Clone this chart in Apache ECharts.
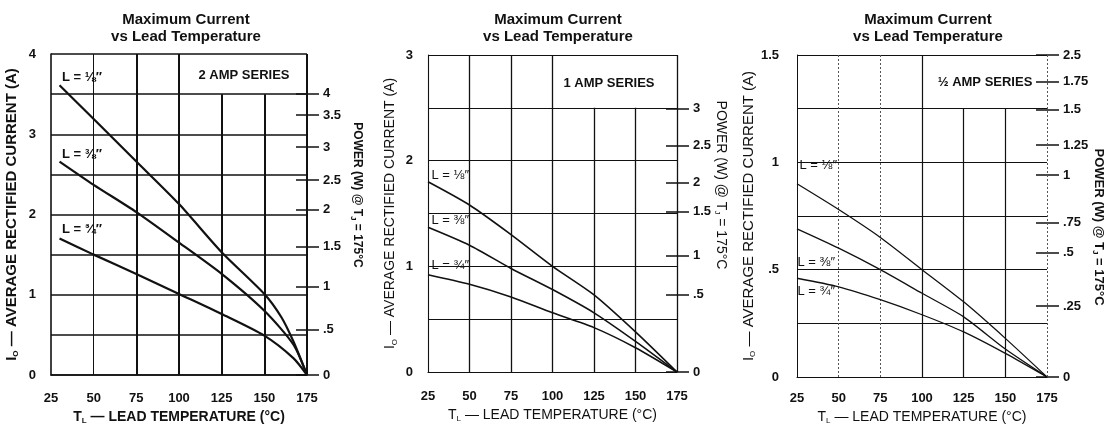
<!DOCTYPE html>
<html><head><meta charset="utf-8">
<script src="https://cdn.jsdelivr.net/npm/echarts@6/dist/echarts.min.js"></script>
<style>html,body{margin:0;padding:0;background:#fff}#c{width:1105px;height:430px}</style>
</head><body><div id="c"></div>
<script>
// ---------- DATA ----------
const tempTicks = [25, 50, 75, 100, 125, 150, 175];
const chartTitle = 'Maximum Current\nvs Lead Temperature';
const seriesNames = ['L = \u215B\u2033', 'L = \u215C\u2033', 'L = \u00BE\u2033'];

// 2 AMP SERIES
const a2Temp18 = [30, 50, 75, 100, 125, 150, 160, 167, 175];
const a2Cur18  = [3.61, 3.19, 2.66, 2.13, 1.53, 1.01, 0.72, 0.42, 0];
const a2Temp38 = [30, 50, 75, 100, 125, 150, 167, 175];
const a2Cur38  = [2.66, 2.37, 2.03, 1.65, 1.26, 0.80, 0.38, 0];
const a2Temp34 = [30, 50, 75, 100, 125, 150, 167, 175];
const a2Cur34  = [1.70, 1.50, 1.26, 1.01, 0.76, 0.49, 0.21, 0];
const a2CurLabels = [0, 1, 2, 3, 4];
const a2PowerLabels = ['0', '.5', '1', '1.5', '2', '2.5', '3', '3.5', '4'];
const a2PowerAt     = [0, 0.57, 1.10, 1.60, 2.06, 2.43, 2.84, 3.24, 3.51];

// 1 AMP SERIES
const a1Temp   = [25, 50, 75, 100, 125, 150, 175];
const a1Cur18  = [1.80, 1.58, 1.30, 1.00, 0.73, 0.38, 0];
const a1Cur38  = [1.37, 1.20, 0.98, 0.78, 0.56, 0.29, 0];
const a1Cur34  = [0.92, 0.83, 0.71, 0.56, 0.42, 0.23, 0];
const a1CurLabels = [0, 1, 2, 3];
const a1PowerLabels = ['0', '.5', '1', '1.5', '2', '2.5', '3'];
const a1PowerAt     = [0, 0.73, 1.10, 1.52, 1.79, 2.14, 2.49];

// 1/2 AMP SERIES
const a05Temp  = [25, 50, 75, 100, 125, 150, 175];
const a05Cur18 = [0.90, 0.78, 0.65, 0.50, 0.35, 0.18, 0];
const a05Cur38 = [0.69, 0.60, 0.50, 0.39, 0.28, 0.13, 0];
const a05Cur34 = [0.46, 0.42, 0.36, 0.29, 0.21, 0.11, 0];
const a05CurLabels = [0, 0.5, 1, 1.5];
const a05PowerLabels = ['0', '.25', '.5', '.75', '1', '1.25', '1.5', '1.75', '2.5'];
const a05PowerAt     = [0, 0.33, 0.58, 0.72, 0.94, 1.08, 1.245, 1.375, 1.5];

// ---------- LAYOUT / STYLE ----------
const FONT = '"Liberation Sans", Arial, "DejaVu Sans", sans-serif';
const INK = '#111';

const panels = [
  {
    grid: {left: 51, top: 54, width: 256, height: 325},
    titleX: 181, ymax: 4, yint: 0.5,
    curLabels: a2CurLabels, powerLabels: a2PowerLabels, powerAt: a2PowerAt,
    curves: [[a2Temp18, a2Cur18], [a2Temp38, a2Cur38], [a2Temp34, a2Cur34]],
    labelPos: [[3, -7], [3, -7], [3, -9]],
    fullV: [50, 75, 100, 175], partV: [125, 150], partTop: 3.5,
    bold: true, curveW: 2.2, gridW: 1.6, vW: 2, thinV: [50],
    seriesText: '2 AMP SERIES', seriesXY: [244, 75],
    powerName: [357, 195], powerFont: 12, powerBold: true,
    yNameGap: 31, yNameSize: 15, xMargin: 17, xNameGap: 34, yMargin: 15,
    xNameSize: 14
  },
  {
    grid: {left: 428, top: 55, width: 249, height: 317},
    titleX: 553, ymax: 3, yint: 0.5,
    curLabels: a1CurLabels, powerLabels: a1PowerLabels, powerAt: a1PowerAt,
    curves: [[a1Temp, a1Cur18], [a1Temp, a1Cur38], [a1Temp, a1Cur34]],
    labelPos: [[4, -6], [4, -6], [4, -9]],
    fullV: [50, 75, 100, 175], partV: [125, 150], partTop: 2.5,
    bold: false, curveW: 1.6, gridW: 1.1, vW: 1.3, thinV: [],
    seriesText: '1 AMP SERIES', seriesXY: [609, 83],
    powerName: [721, 185], powerFont: 14, powerBold: false,
    yNameGap: 29, yNameSize: 14, xMargin: 18, xNameGap: 33, yMargin: 15,
    xNameSize: 14
  },
  {
    grid: {left: 797, top: 55, width: 250, height: 322},
    titleX: 923, ymax: 1.5, yint: 0.25,
    curLabels: a05CurLabels, powerLabels: a05PowerLabels, powerAt: a05PowerAt,
    curves: [[a05Temp, a05Cur18], [a05Temp, a05Cur38], [a05Temp, a05Cur34]],
    labelPos: [[3, -18], [1, 34], [1, 14]],
    fullV: [100], dotV: [50, 75, 175], partV: [125, 150], partTop: 1.25,
    bold: false, curveW: 1.3, gridW: 1, vW: 1.2, thinV: [],
    seriesText: '\u00BD AMP SERIES', seriesXY: [985, 82],
    powerName: [1099, 227], powerFont: 13, powerBold: true,
    yNameGap: 33, yNameSize: 15, xMargin: 15, xNameGap: 31, yMargin: 18,
    xNameSize: 14
  }
];

const grids = [], xAxes = [], yAxes = [], series = [], titles = [], graphics = [];

function fmtCur(v) {
  if (v > 0 && v < 1) return String(v).replace(/^0/, '');
  return String(v);
}

panels.forEach((p, k) => {
  const W = p.bold ? 'bold' : 'normal';
  grids.push(Object.assign({containLabel: false}, p.grid));
  titles.push({
    text: chartTitle, left: p.titleX, top: 6, textAlign: 'center',
    textStyle: {fontFamily: FONT, fontSize: 15, fontWeight: 'bold', lineHeight: 17, color: INK}
  });
  xAxes.push({
    type: 'value', gridIndex: k, min: 25, max: 175, interval: 25,
    name: '{m|T}{s|L}{m| \u2014 LEAD TEMPERATURE (\u00B0C)}',
    nameLocation: 'middle', nameGap: p.xNameGap,
    nameTextStyle: {
      rich: {
        m: {fontFamily: FONT, fontSize: p.xNameSize, fontWeight: W, color: INK, lineHeight: 16},
        s: {fontFamily: FONT, fontSize: 8, fontWeight: W, color: INK, lineHeight: 8, verticalAlign: 'bottom'}
      }
    },
    axisLine: {show: true, lineStyle: {color: INK, width: p.gridW}},
    axisTick: {show: false},
    splitLine: {show: false},
    axisLabel: {margin: p.xMargin, fontFamily: FONT, fontSize: 13, fontWeight: 'bold', color: INK,
                customValues: tempTicks}
  });
  const yBase = yAxes.length;
  yAxes.push({
    type: 'value', gridIndex: k, min: 0, max: p.ymax, interval: p.yint, position: 'left',
    name: '{m|I}{s|O}{m| \u2014 AVERAGE RECTIFIED CURRENT (A)}',
    nameLocation: 'middle', nameGap: p.yNameGap, nameRotate: 90,
    nameTextStyle: {
      rich: {
        m: {fontFamily: FONT, fontSize: p.yNameSize, fontWeight: W, color: INK, lineHeight: 17},
        s: {fontFamily: FONT, fontSize: 8, fontWeight: W, color: INK, lineHeight: 8, verticalAlign: 'bottom'}
      }
    },
    axisLine: {show: true, lineStyle: {color: INK, width: p.gridW}},
    axisTick: {show: false},
    splitLine: {show: true, lineStyle: {color: INK, width: p.gridW}},
    axisLabel: {margin: p.yMargin, fontFamily: FONT, fontSize: 13, fontWeight: 'bold', color: INK,
                customValues: p.curLabels, formatter: fmtCur}
  });
  // right power scale: inner ticks
  yAxes.push({
    type: 'value', gridIndex: k, min: 0, max: p.ymax, position: 'right',
    axisLine: {show: false}, splitLine: {show: false},
    axisTick: {show: true, inside: true, length: 11, customValues: p.powerAt,
               lineStyle: {color: INK, width: 1.5}},
    axisLabel: {show: false}
  });
  // right power scale: outer ticks + labels
  yAxes.push({
    type: 'value', gridIndex: k, min: 0, max: p.ymax, position: 'right',
    axisLine: {show: false}, splitLine: {show: false},
    axisTick: {show: true, inside: false, length: 12, customValues: p.powerAt,
               lineStyle: {color: INK, width: 1.5}},
    axisLabel: {show: true, margin: 16, fontFamily: FONT, fontSize: 13, fontWeight: 'bold', color: INK,
                customValues: p.powerAt,
                formatter: v => p.powerLabels[p.powerAt.indexOf(v)] ?? ''}
  });

  // vertical grid lines (partial-height ones stop below the series box)
  const ml = [];
  p.fullV.forEach(t => ml.push([
    {coord: [t, 0], lineStyle: {color: INK, width: p.thinV.includes(t) ? 1 : p.vW, type: 'solid'}},
    {coord: [t, p.ymax]}
  ]));
  (p.dotV || []).forEach(t => ml.push([
    {coord: [t, 0], lineStyle: {color: '#555', width: 1, type: [2, 2]}},
    {coord: [t, p.ymax]}
  ]));
  p.partV.forEach(t => ml.push([
    {coord: [t, 0], lineStyle: {color: INK, width: p.vW, type: 'solid'}},
    {coord: [t, p.partTop]}
  ]));

  p.curves.forEach((c, j) => {
    const data = c[0].map((t, i) => {
      const item = {value: [t, c[1][i]]};
      if (i === 0) {
        item.label = {
          show: true, formatter: seriesNames[j], position: p.labelPos[j],
          align: 'left', verticalAlign: 'middle',
          fontFamily: FONT, fontSize: 13, fontWeight: W, color: INK
        };
      }
      return item;
    });
    const s = {
      type: 'line', xAxisIndex: k, yAxisIndex: yBase, name: seriesNames[j],
      data: data, smooth: 0.25, symbol: 'circle', symbolSize: 1, showSymbol: true,
      itemStyle: {color: 'rgba(0,0,0,0)'},
      lineStyle: {color: INK, width: p.curveW},
      silent: true, animation: false, clip: false, z: 5,
      emphasis: {disabled: true}
    };
    if (j === 0) {
      s.markLine = {silent: true, symbol: ['none', 'none'], label: {show: false},
                    animation: false, emphasis: {disabled: true}, data: ml};
    }
    series.push(s);
  });

  graphics.push({
    type: 'text', x: p.seriesXY[0], y: p.seriesXY[1], z: 10,
    style: {text: p.seriesText, textAlign: 'center', textVerticalAlign: 'middle',
            font: 'bold 13px ' + FONT, fill: INK}
  });
  graphics.push({
    type: 'text', x: p.powerName[0], y: p.powerName[1], rotation: -Math.PI / 2, z: 10,
    style: {
      text: '{m|POWER (W) @ T}{s|J}{m| = 175\u00B0C}', textAlign: 'center', textVerticalAlign: 'middle',
      rich: {
        m: {fontFamily: FONT, fontSize: p.powerFont, fontWeight: p.powerBold ? 'bold' : 'normal', fill: INK, lineHeight: 15},
        s: {fontFamily: FONT, fontSize: 8, fontWeight: p.powerBold ? 'bold' : 'normal', fill: INK, lineHeight: 8, verticalAlign: 'bottom'}
      }
    }
  });
});

const chart = echarts.init(document.getElementById('c'));
chart.setOption({
  backgroundColor: '#fff',
  animation: false,
  title: titles,
  grid: grids,
  xAxis: xAxes,
  yAxis: yAxes,
  series: series,
  graphic: graphics
});
</script>
</body></html>
